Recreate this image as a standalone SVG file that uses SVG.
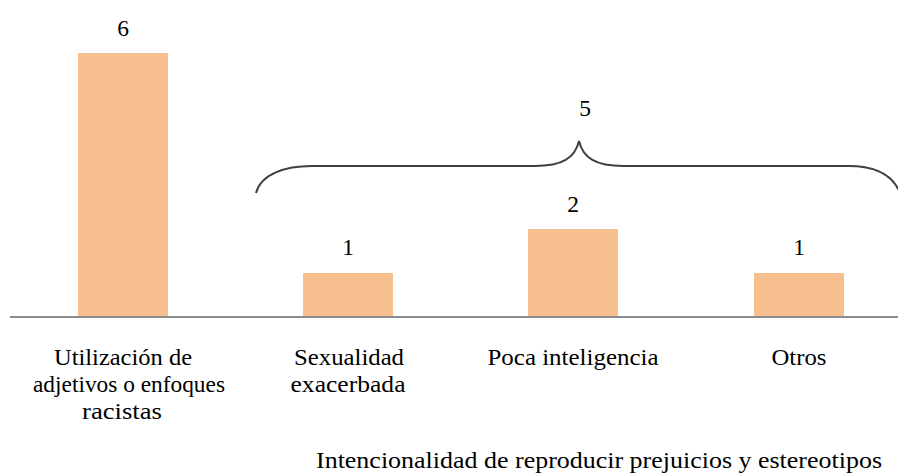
<svg xmlns="http://www.w3.org/2000/svg" width="898" height="474" viewBox="0 0 898 474">
<style>
text{font-family:"Liberation Serif","Times New Roman",serif;font-size:23.5px;fill:#000;text-anchor:middle}
.bar{fill:#F9C08F}
.axis{stroke:#8C8C8C;stroke-width:2;fill:none}
.brace{stroke:#404040;stroke-width:2;fill:none}
</style>
<rect width="898" height="474" fill="#fff"/>
<g id="bar-racistas">
<rect class="bar" x="78" y="53" width="90" height="264"/>
<text x="123" y="36">6</text>
<text x="123" y="365" textLength="138" lengthAdjust="spacingAndGlyphs">Utilización de</text>
<text x="129" y="392" textLength="192" lengthAdjust="spacingAndGlyphs">adjetivos o enfoques</text>
<text x="122" y="419" textLength="80" lengthAdjust="spacingAndGlyphs">racistas</text>
</g>
<g id="bar-sexualidad">
<rect class="bar" x="303" y="273" width="90" height="44"/>
<text x="348" y="255">1</text>
<text x="349" y="365" textLength="110" lengthAdjust="spacingAndGlyphs">Sexualidad</text>
<text x="348" y="392" textLength="115" lengthAdjust="spacingAndGlyphs">exacerbada</text>
</g>
<g id="bar-inteligencia">
<rect class="bar" x="528" y="229" width="90" height="88"/>
<text x="573" y="212">2</text>
<text x="573" y="365" textLength="171" lengthAdjust="spacingAndGlyphs">Poca inteligencia</text>
</g>
<g id="bar-otros">
<rect class="bar" x="754" y="273" width="90" height="44"/>
<text x="799" y="255">1</text>
<text x="799" y="365" textLength="55" lengthAdjust="spacingAndGlyphs">Otros</text>
</g>
<g id="group-brace">
<path class="brace" d="M256,193 C261,174 285,166 312,166 L535,166 C562,166 575,158 579,141 C583,158 596,166 623,166 L848,166 C872,166 892,172 900,193"/>
<text x="585" y="116">5</text>
</g>
<g id="connectors">
<line class="axis" x1="10" y1="317" x2="898" y2="317"/>
</g>
<g id="axis-title">
<text x="599" y="468" textLength="566" lengthAdjust="spacingAndGlyphs">Intencionalidad de reproducir prejuicios y estereotipos</text>
</g>
</svg>
